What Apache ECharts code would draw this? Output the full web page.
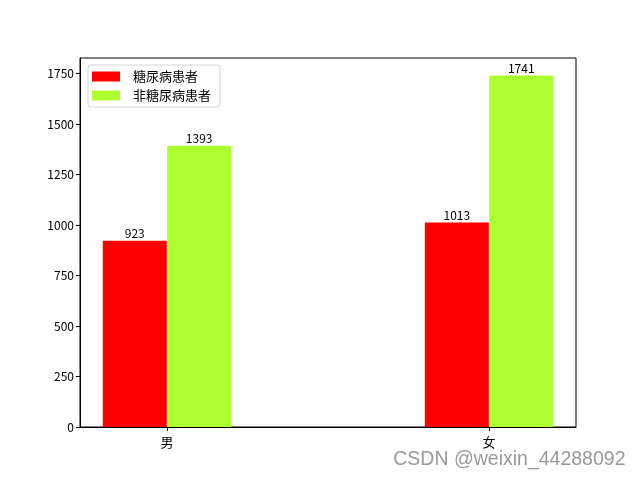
<!DOCTYPE html>
<html lang="zh">
<head>
    <meta charset="UTF-8">
    <title>糖尿病患者</title>
    <style>
        html, body { margin: 0; padding: 0; background: #fff; }
    </style>
</head>
<body>
<div id="main" style="width: 640px;height:480px;"></div>
<script src="https://cdn.jsdelivr.net/npm/echarts@6/dist/echarts.min.js"></script>
<script>
    var genders = ['男', '女'];
    var diabetic = [923, 1013];
    var nonDiabetic = [1393, 1741];
    var yTicks = [0, 250, 500, 750, 1000, 1250, 1500, 1750];

    var barW = 0.2;
    var font = 'Noto Sans CJK SC';

    function place(values, shift) {
        return values.map(function (v, i) { return [i + shift, v]; });
    }

    var myChart = echarts.init(document.getElementById('main'));

    var labelOpt = {
        show: true,
        position: 'top',
        distance: 1,
        color: '#000',
        fontFamily: font,
        fontSize: 12,
        formatter: function (p) { return p.value[1]; }
    };

    var option = {
        animation: false,
        textStyle: { fontFamily: font },
        grid: {
            left: 80, right: 64, top: 58, bottom: 53,
            show: true, borderColor: '#000', borderWidth: 1,
            backgroundColor: 'transparent'
        },
        legend: {
            orient: 'vertical',
            left: 88, top: 65,
            padding: [5, 9, 5, 4],
            itemGap: 6,
            itemWidth: 28, itemHeight: 10,
            icon: 'rect',
            backgroundColor: '#fff',
            borderColor: '#d5d5d5',
            borderWidth: 1,
            borderRadius: 3,
            textStyle: { fontFamily: font, fontSize: 13, color: '#000', padding: [0, 0, 0, 8] },
            data: ['糖尿病患者', '非糖尿病患者']
        },
        xAxis: {
            type: 'value',
            min: -barW - 0.07,
            max: genders.length - 1 + barW + 0.07,
            splitLine: { show: false },
            axisLine: { onZero: false, lineStyle: { color: '#000' } },
            axisTick: { show: true, length: 4, customValues: genders.map(function (g, i) { return i; }), lineStyle: { color: '#000' } },
            axisLabel: {
                customValues: genders.map(function (g, i) { return i; }),
                formatter: function (v) { return genders[Math.round(v)]; },
                color: '#000', fontSize: 13, fontFamily: font, margin: 9
            }
        },
        yAxis: {
            type: 'value',
            min: 0,
            max: 1828,
            interval: 250,
            splitLine: { show: false },
            axisLine: { show: true, onZero: false, lineStyle: { color: '#000' } },
            axisTick: { show: true, length: 4, lineStyle: { color: '#000' } },
            axisLabel: {
                showMaxLabel: false,
                color: '#000', fontSize: 12, fontFamily: font, margin: 6,
                formatter: function (v) { return yTicks.indexOf(v) >= 0 ? v : ''; }
            }
        },
        series: [
            {
                name: '糖尿病患者',
                type: 'bar',
                barWidth: 64,
                barGap: '-100%',
                itemStyle: { color: '#ff0000' },
                label: labelOpt,
                data: place(diabetic, -barW / 2)
            },
            {
                name: '非糖尿病患者',
                type: 'bar',
                barWidth: 64,
                barGap: '-100%',
                itemStyle: { color: '#adff2f' },
                label: labelOpt,
                data: place(nonDiabetic, barW / 2)
            }
        ],
        graphic: [
            {
                type: 'text',
                right: 14,
                bottom: 10,
                style: {
                    text: 'CSDN @weixin_44288092',
                    fill: '#999',
                    stroke: '#fff',
                    lineWidth: 1,
                    font: '19.5px "Liberation Sans", Arial, sans-serif'
                }
            }
        ]
    };

    myChart.setOption(option);
</script>
</body>
</html>
